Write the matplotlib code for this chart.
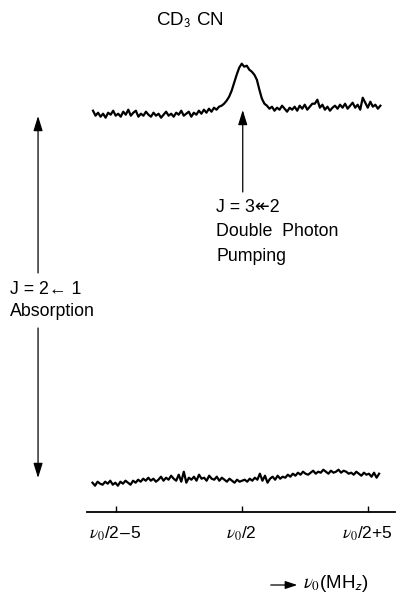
import numpy as np
import matplotlib
matplotlib.use("Agg")
import matplotlib.pyplot as plt

plt.rcParams['font.family'] = ['Liberation Sans', 'DejaVu Sans']
plt.rcParams['mathtext.fontset'] = 'stix'

# frequency offset from nu0/2, MHz
tick_pos = [-5, 0, 5]
tick_labels = [r"$\nu_0$/2$-$5", r"$\nu_0$/2", r"$\nu_0$/2+5"]

# upper trace (J = 3<<2 double photon pumping), sampled every 0.1 MHz from -5.9
upper_left = [401, 396, 399, 395, 398, 394, 399, 397, 401, 396,
              398, 395, 400, 397, 402, 396, 399, 401, 395, 398,
              396, 400, 397, 395, 399, 396, 398, 394, 397, 400,
              396, 398, 395, 399, 397, 401, 396, 398, 400, 395,
              399, 397, 401, 398, 402, 399, 403, 400, 404, 402, 405]
upper_peak = [406, 408, 411, 415, 421, 429, 437, 444, 448, 445,
              446, 442, 440, 437, 432, 422, 413, 408, 406]
upper_right = [403, 405, 401, 404, 402, 406, 403, 400, 404, 402,
               405, 401, 406, 403, 407, 402, 405, 408, 408, 412,
               404, 407, 402, 405, 401, 404, 406, 403, 407, 404,
               408, 403, 406, 409, 404, 407, 402, 414, 409, 404,
               410, 405, 407, 403, 406]
upper = upper_left + upper_peak + upper_right

# lower trace (J = 2<-1 absorption)
lower = [29, 26, 30, 28, 27, 30, 28, 31, 27, 29, 26, 30, 28, 31, 29, 27, 31, 29, 32, 30,
         33, 31, 34, 31, 33, 30, 32, 35, 31, 34, 32, 36, 33, 31, 37, 30, 40, 29, 34, 32,
         35, 31, 37, 33, 34, 31, 36, 33, 32, 35, 31, 34, 32, 30, 33, 31, 29, 32, 30, 31,
         32, 30, 33, 31, 34, 32, 38, 31, 36, 29, 33, 35, 32, 36, 33, 35, 34, 37, 35, 38,
         36, 39, 37, 40, 38, 37, 39, 41, 38, 40, 39, 42, 40, 38, 41, 39, 40, 42, 39, 41,
         40, 38, 39, 37, 40, 38, 36, 39, 37, 38, 35, 39, 34, 38]

x_upper = np.linspace(-5.9, 5.5, len(upper))
x_lower = np.linspace(-5.92, 5.45, len(lower))

W, H = 404, 601
fig = plt.figure(figsize=(W / 100, H / 100), dpi=100)
ax = fig.add_axes([86.7 / W, 1 - 511.7 / H, (395 - 86.7) / W, (511.7 - 40) / H])

ax.plot(x_upper, upper, color='black', lw=1.6)
ax.plot(x_lower, lower, color='black', lw=1.6)

ax.set_xlim(-6.15, 6.08)
ax.set_ylim(0, 471.7)
for s in ['top', 'left', 'right']:
    ax.spines[s].set_visible(False)
ax.spines['bottom'].set_linewidth(1.3)
ax.set_yticks([])
ax.set_xticks(tick_pos)
ax.set_xticklabels(tick_labels, fontsize=12.5)
ax.tick_params(axis='x', direction='in', length=4.5, width=1.0, pad=9)

arrow = dict(arrowstyle='-|>,head_length=0.9,head_width=0.28', color='black',
             lw=0.9, shrinkA=0, shrinkB=0, mutation_scale=10)
# absorption arrow, broken around its label
ax.annotate('', xy=(-8.08, 395.7), xytext=(-8.08, 238.7), arrowprops=arrow,
            annotation_clip=False)
ax.annotate('', xy=(-8.08, 33.7), xytext=(-8.08, 183.7), arrowprops=arrow,
            annotation_clip=False)
# pumping arrow
ax.annotate('', xy=(0.04, 401.7), xytext=(0.04, 319.7), arrowprops=arrow)


def fxy(px, py):
    return px / W, 1 - py / H


fs = 12.8
fig.text(*fxy(156, 20), r"CD$_\mathsf{3}$ CN", fontsize=13.5, va='center', ha='left')
fig.text(*fxy(10, 290), "J = 2\u2190 1", fontsize=fs, va='center', ha='left')
fig.text(*fxy(10, 312), "Absorption", fontsize=fs, va='center', ha='left')
fig.text(*fxy(216, 208), "J = 3\u219e2", fontsize=fs, va='center', ha='left')
fig.text(*fxy(216, 232), "Double  Photon", fontsize=fs, va='center', ha='left')
fig.text(*fxy(216, 256), "Pumping", fontsize=fs, va='center', ha='left')

fig.add_artist(matplotlib.patches.FancyArrowPatch(
    fxy(268, 585), fxy(300, 585), transform=fig.transFigure,
    arrowstyle='-|>,head_length=0.9,head_width=0.3', mutation_scale=8,
    color='black', lw=0.9))
fig.text(*fxy(303, 583), r"$\nu_0$(MH$_\mathsf{z}$)", fontsize=13.5, va='center', ha='left')

fig.savefig('out.png', dpi=100)
